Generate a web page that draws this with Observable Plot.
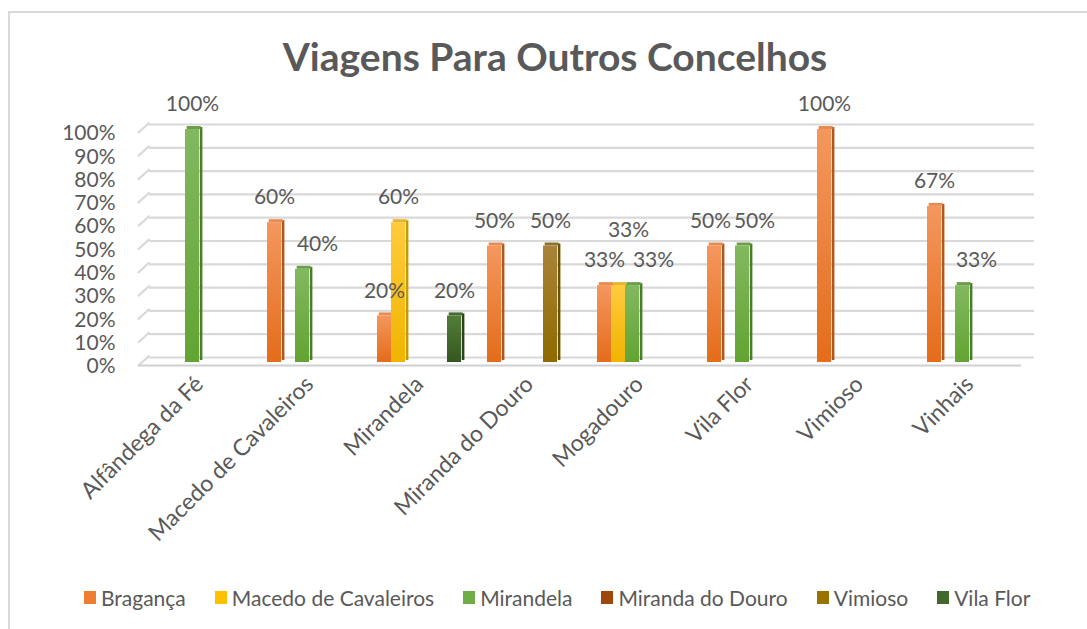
<!DOCTYPE html>
<html><head><meta charset="utf-8">
<script src="https://cdn.jsdelivr.net/npm/d3@7"></script>
<script src="https://cdn.jsdelivr.net/npm/@observablehq/plot@0.6"></script>
<style>
body{margin:0;background:#fff;font-family:Lato,"Open Sans",sans-serif;}
#wrap{position:relative;width:1087px;height:629px;overflow:hidden;background:#fff;}
#border{position:absolute;left:8px;top:11px;width:1200px;height:700px;border-top:2px solid #d9d9d9;border-left:2px solid #d9d9d9;}
#title{position:absolute;top:33px;left:555px;transform:translateX(-50%);white-space:nowrap;font-weight:700;font-size:39px;font-family:Lato,sans-serif;color:#595959;line-height:46px;}
#chart{position:absolute;left:0;top:80px;}
#legend{position:absolute;left:84px;top:585px;display:flex;align-items:center;gap:29px;font-family:Lato,sans-serif;font-size:21px;color:#595959;white-space:nowrap;}
#legend .it{display:flex;align-items:center;}
#legend .sw{width:12px;height:13px;margin-right:5px;}
</style></head>
<body>
<div id="wrap">
  <div id="border"></div>
  <div id="title">Viagens Para Outros Concelhos</div>
  <div id="chart"></div>
  <div id="legend"></div>
</div>
<script>
// ---- data ----
const categories = ["Alfândega da Fé","Macedo de Cavaleiros","Mirandela","Miranda do Douro","Mogadouro","Vila Flor","Vimioso","Vinhais"];
const seriesNames = ["Bragança","Macedo de Cavaleiros","Mirandela","Miranda do Douro","Vimioso","Vila Flor"];
const braganca     = [0, 60, 20, 50, 33, 50, 100, 67];
const macedo       = [0, 0, 60, 0, 33, 0, 0, 0];
const mirandela    = [100, 40, 0, 0, 33, 50, 0, 33];
const mirandaDouro = [0, 0, 0, 0, 0, 0, 0, 0];
const vimioso      = [0, 0, 0, 50, 0, 0, 0, 0];
const vilaFlor     = [0, 0, 20, 0, 0, 0, 0, 0];
const yTicks = [0, 10, 20, 30, 40, 50, 60, 70, 80, 90, 100];

// ---- styles ----
const seriesValues = [braganca, macedo, mirandela, mirandaDouro, vimioso, vilaFlor];
const legendColors = ["#ED7D31","#FFC000","#70AD47","#9E480E","#997300","#43682B"];
const gradTop    = ["#F4975E","#FFCB3D","#82B85F","#AD5A22","#A8843A","#537D38"];
const gradBottom = ["#E46C1A","#F0B400","#62A432","#8E400C","#8E6A00","#345620"];
const sideColors = ["#B2561A","#C99800","#4A7D2A","#6E3009","#6B5100","#2A4419"];
const capColors  = ["#E98A52","#E8B52E","#6E9E4C","#8E4A1C","#8E7030","#456A2E"];
const textColor = "#595959";
const gridColor = "#d9d9d9";

const rows = [];
seriesNames.forEach((s, si) => categories.forEach((c, ci) => {
  rows.push({cat: c, series: s, si, value: seriesValues[si][ci]});
}));
const nonzero = rows.filter(d => d.value > 0);

// grid rows per facet (so lines run continuously across the adjacent facets)
const gridRows = categories.flatMap(c => yTicks.map(t => ({cat: c, t})));
const firstCat = categories[0], lastCat = categories[categories.length - 1];
const midCat = d => d.cat !== firstCat && d.cat !== lastCat;

// label nudges to avoid overlap (as in the original)
const nudges = {
  "Mogadouro|Macedo de Cavaleiros": [10, -30],
  "Mogadouro|Mirandela": [21, 0],
  "Vila Flor|Bragança": [-4, 0],
  "Vila Flor|Mirandela": [12, 0],
  "Macedo de Cavaleiros|Mirandela": [15, 0],
  "Vinhais|Mirandela": [14, 0]
};
const nudge = d => nudges[d.cat + "|" + d.series] || [0, 0];

const stub = {draw(ctx, l) { ctx.moveTo(0, 0); ctx.lineTo(0, -l); }};
const gridStyle = {stroke: gridColor, strokeWidth: 2.2};
const floorStyle = {stroke: "#d0d0d0", strokeWidth: 2.2};

const marks = [
  Plot.ruleY(gridRows.filter(d => d.cat === firstCat), {fx: "cat", y: "t", dy: -5, insetLeft: 5, ...gridStyle}),
  Plot.ruleY(gridRows.filter(midCat), {fx: "cat", y: "t", dy: -5, ...gridStyle}),
  Plot.ruleY(gridRows.filter(d => d.cat === lastCat), {fx: "cat", y: "t", dy: -5, insetRight: -10, ...gridStyle}),
  Plot.vector(gridRows.filter(d => d.cat === firstCat), {fx: "cat", y: "t", frameAnchor: "left", dx: -6, dy: 3, length: 14, rotate: 48, anchor: "start", shape: stub, ...gridStyle}),
  Plot.ruleY(categories.map(c => ({cat: c, t: 0})).filter(midCat), {fx: "cat", y: "t", dy: 3, ...floorStyle}),
  Plot.ruleY([{cat: firstCat, t: 0}], {fx: "cat", y: "t", dy: 3, insetLeft: -6, ...floorStyle}),
  Plot.ruleY([{cat: lastCat, t: 0}], {fx: "cat", y: "t", dy: 3, insetRight: 3, ...floorStyle}),
  Plot.axisY({ticks: yTicks, tickFormat: d => d + "%", tickSize: 0, tickPadding: 29, dy: 4, fontSize: 21, fill: textColor, label: null}),
  Plot.axisFx({anchor: "bottom", tickRotate: -45, tickSize: 0, tickPadding: 18, fontSize: 23, fill: textColor, label: null})
];
seriesNames.forEach((s, si) => {
  const data = nonzero.filter(d => d.si === si);
  marks.push(
    Plot.barY(data, {fx: "cat", x: "series", y: "value", insetLeft: 11.4, dx: 3.4, dy: -2, fill: sideColors[si]}),
    Plot.barY(data, {fx: "cat", x: "series", y1: "value", y2: "value", insetTop: -3, dx: 1.7, fill: capColors[si]}),
    Plot.barY(data, {fx: "cat", x: "series", y: "value", fill: `url(#grad${si})`})
  );
});
marks.push(
  Plot.text(nonzero, {fx: "cat", x: "series", y: "value", text: d => d.value + "%",
    dy: -25, fontSize: 21, fill: textColor, lineAnchor: "middle",
    filter: d => nudge(d)[0] === 0 && nudge(d)[1] === 0}),
  ...Object.keys(nudges).map(k => {
    const [c, s] = k.split("|");
    const [dx, dy] = nudges[k];
    return Plot.text(nonzero.filter(d => d.cat === c && d.series === s), {fx: "cat", x: "series", y: "value",
      text: d => d.value + "%", dx, dy: -25 + dy, fontSize: 21, fill: textColor, lineAnchor: "middle"});
  })
);

const svg = Plot.plot({
  width: 1087,
  height: 480,
  marginTop: 49,
  marginLeft: 143,
  marginRight: 62,
  marginBottom: 198,
  style: {fontFamily: "Lato, sans-serif", background: "transparent", overflow: "visible"},
  fx: {domain: categories, padding: 0, label: null},
  x: {domain: seriesNames, paddingInner: 0, paddingOuter: 0.72, axis: null},
  y: {domain: [0, 100], axis: null},
  marks
});

const defs = d3.create("svg:defs");
seriesNames.forEach((s, si) => {
  const g = defs.append("linearGradient").attr("id", `grad${si}`).attr("x1", 0).attr("y1", 0).attr("x2", 0).attr("y2", 1);
  g.append("stop").attr("offset", "0%").attr("stop-color", gradTop[si]);
  g.append("stop").attr("offset", "100%").attr("stop-color", gradBottom[si]);
});
svg.insertBefore(defs.node(), svg.firstChild);
document.getElementById("chart").appendChild(svg);

const legend = d3.select("#legend");
seriesNames.forEach((s, si) => {
  const it = legend.append("div").attr("class", "it");
  it.append("div").attr("class", "sw").style("background", legendColors[si]);
  it.append("span").text(s);
});
</script>
</body></html>
